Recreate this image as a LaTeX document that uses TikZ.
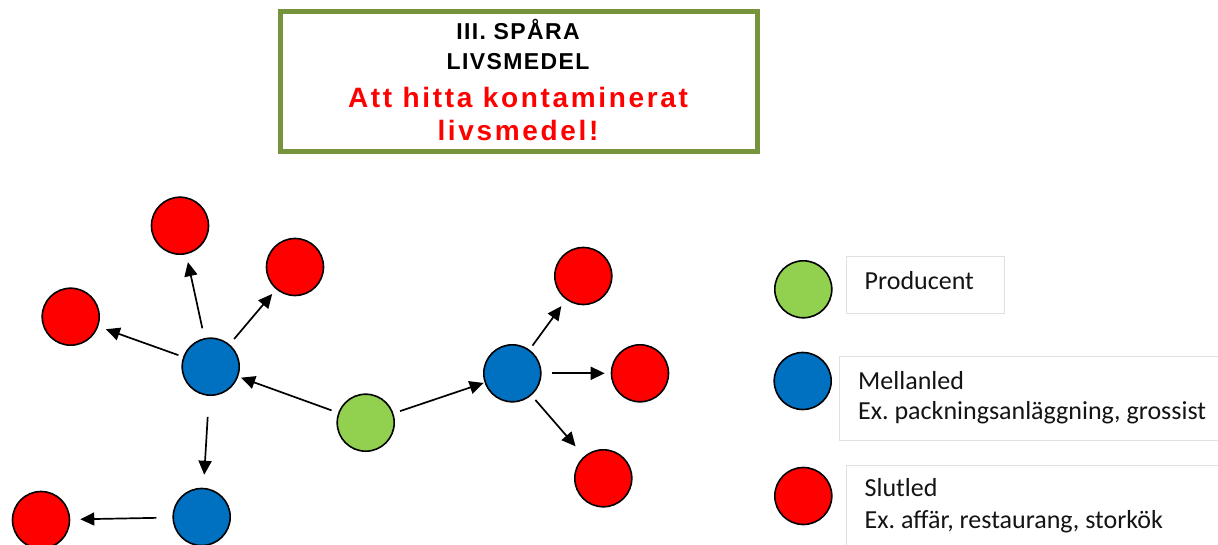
\documentclass[tikz,border=0pt]{standalone}
\usepackage{fontspec}
\usetikzlibrary{arrows.meta}
\newfontfamily\headfont[LetterSpace=6]{Liberation Sans}
\newfontfamily\alertfont[LetterSpace=9.5]{Liberation Sans}
\newfontfamily\legfont{Carlito}
\definecolor{prodgreen}{RGB}{146,208,80}
\definecolor{midblue}{RGB}{0,112,192}
\definecolor{endred}{RGB}{255,0,0}
\definecolor{frame}{RGB}{119,147,60}
\definecolor{legline}{RGB}{225,225,225}
\definecolor{legink}{RGB}{20,20,20}
\tikzset{
  dot/.style={circle, draw=black, line width=1.6pt, minimum size=57pt, inner sep=0pt},
  prod/.style={dot, fill=prodgreen},
  mid/.style={dot, fill=midblue},
  fin/.style={dot, fill=endred},
  flow/.style={line width=1.7pt, -{Triangle[length=14pt,width=13pt]}},
  legbox/.style={draw=legline, line width=0.8pt},
  legtext/.style={anchor=base west, inner sep=0pt, text=legink, font=\legfont\frenchspacing\fontsize{26}{30}\selectfont},
  headline/.style={anchor=base, inner sep=0pt, font=\headfont\bfseries\fontsize{23}{27}\selectfont},
  alertline/.style={anchor=base, inner sep=0pt, text=endred, font=\alertfont\bfseries\fontsize{28}{32}\selectfont}
}
\begin{document}
\begin{tikzpicture}[x=1pt,y=-1pt]
\useasboundingbox (0,0) rectangle (1218,545);
\fill[white] (0,0) rectangle (1218,545);

% heading box
\draw[frame, line width=5pt] (280,12) rectangle (757,151.5);
\node[headline] (h1) at (518,39.5) {III. SPÅRA};
\node[headline] (h2) at (518,70) {LIVSMEDEL};
\node[alertline] (h3) at (518,107.7) {Att hitta kontaminerat};
\node[alertline] (h4) at (518,140.5) {livsmedel!};

% supply network
\node[prod] (g)   at (365.7,422.7) {};
\node[mid]  (bm)  at (210.7,366.7) {};
\node[mid]  (bb)  at (201.7,517)   {};
\node[mid]  (br)  at (512.3,373.3) {};
\node[fin]  (rt)  at (180,225.7)   {};
\node[fin]  (rur) at (295,267)     {};
\node[fin]  (rl)  at (70.7,316.7)  {};
\node[fin]  (rbl) at (41,520)      {};
\node[fin]  (rtr) at (583.3,276)   {};
\node[fin]  (rr)  at (640,373.3)   {};
\node[fin]  (rbr) at (603.3,478.3) {};

\draw[flow, shorten <=7pt,  shorten >=3pt]  (g)  -- (bm);
\draw[flow, shorten <=10pt, shorten >=8pt]  (bm) -- (rt);
\draw[flow, shorten <=7pt,  shorten >=6pt]  (bm) -- (rur);
\draw[flow, shorten <=5pt,  shorten >=8pt]  (bm) -- (rl);
\draw[flow, shorten <=21pt, shorten >=13pt] (bm) -- (bb);
\draw[flow, shorten <=16pt, shorten >=10pt] (bb) -- (rbl);
\draw[flow, shorten <=7pt,  shorten >=1pt]  (g)  -- (br);
\draw[flow, shorten <=5pt,  shorten >=8pt]  (br) -- (rtr);
\draw[flow, shorten <=10pt, shorten >=6pt]  (br) -- (rr);
\draw[flow, shorten <=6pt,  shorten >=13pt] (br) -- (rbr);

% legend
\begin{scope}
\clip (0,0) rectangle (1218,545);
\node[prod] (lg) at (803.3,289.3) {};
\node[mid]  (lb) at (802.7,381)   {};
\node[fin]  (lr) at (803.3,496)   {};
\draw[legbox] (846,256) rectangle (1004,313.5);
\draw[legbox] (839.5,356) rectangle (1240,440);
\draw[legbox] (846.5,465) rectangle (1240,570);
\node[legtext] (t1) at (864.5,290) {Producent};
\node[legtext] (t2) at (858,389) {Mellanled};
\node[legtext] (t3) at (858,419) {Ex. packningsanläggning, grossist};
\node[legtext] (t4) at (864.5,496.5) {Slutled};
\node[legtext] (t5) at (864.5,528) {Ex. affär, restaurang, storkök};
\end{scope}
\end{tikzpicture}
\end{document}
